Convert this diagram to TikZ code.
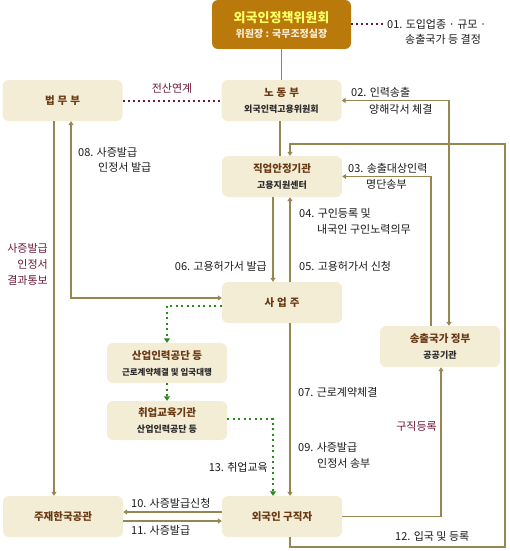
\documentclass[tikz,border=0pt]{standalone}
\usepackage{fontspec}
\setmainfont{Noto Sans CJK KR}
\usetikzlibrary{arrows.meta}
\definecolor{boxfill}{HTML}{F4EDD6}
\definecolor{topfill}{HTML}{BA7A0B}
\definecolor{yel}{HTML}{FFFF66}
\definecolor{cream}{HTML}{F8EED8}
\definecolor{linec}{HTML}{968650}
\definecolor{maroon}{HTML}{6A1A3A}
\definecolor{grn}{HTML}{2A8A1A}
\definecolor{titlec}{HTML}{6A3A14}
\definecolor{subc}{HTML}{2B2B2B}
\definecolor{textc}{HTML}{1A1A1A}
\newcommand\bxtitle[1]{{\fontsize{10.5}{16}\selectfont\bfseries\color{titlec}#1}}
\newcommand\bxsub[1]{{\fontsize{9}{16}\selectfont\bfseries\color{subc}#1}}
\begin{document}
\begin{tikzpicture}[x=1pt,y=-1pt,
  box/.style={fill=boxfill,rounded corners=6pt,minimum width=120pt,minimum height=41pt,inner sep=0pt,align=center,font=\fontsize{10}{16}\selectfont},
  topbox/.style={fill=topfill,rounded corners=6pt,minimum width=139pt,minimum height=49pt,inner sep=0pt,align=center,font=\fontsize{10}{15}\selectfont},
  conn/.style={draw=linec,line width=1.2pt},
  arr/.style={-{Triangle[width=5pt,length=4pt]}},
  arrboth/.style={{Triangle[width=5pt,length=4pt]}-{Triangle[width=5pt,length=4pt]}},
  mdot/.style={draw=maroon,line width=2pt,dash pattern=on 2pt off 3pt},
  gdot/.style={draw=grn,line width=2pt,dash pattern=on 2pt off 3.5pt},
  garr/.style={-{Triangle[width=6pt,length=4.5pt]}},
  lbl/.style={font=\fontsize{11}{13}\selectfont,text=textc,inner sep=0pt,anchor=west},
  mlbl/.style={font=\fontsize{11}{13}\selectfont,text=maroon,inner sep=0pt}
]
\useasboundingbox (0,0) rectangle (509,551);

% boxes
\node[topbox] (pol) at (281.5,24.5) {{\fontsize{13}{15}\selectfont\bfseries\color{yel}외국인정책위원회}\\{\fontsize{10}{15}\selectfont\bfseries\color{cream}위원장 : 국무조정실장}};
\node[box] (moj) at (62.5,100.5) {\bxtitle{법\hspace{3pt}무\hspace{3pt}부}};
\node[box] (mol) at (281.5,100.5) {\bxtitle{노\hspace{3pt}동\hspace{3pt}부}\\\bxsub{외국인력고용위원회}};
\node[box] (esa) at (282,176.5) {\bxtitle{직업안정기관}\\\bxsub{고용지원센터}};
\node[box] (emp) at (282,302.5) {\bxtitle{사\hspace{3pt}업\hspace{3pt}주}};
\node[box,minimum height=40pt] (hrd) at (167,363) {\bxtitle{산업인력공단 등}\\{\fontsize{8.5}{16}\selectfont\bfseries\color{subc}근로계약체결 및 입국대행}};
\node[box,minimum height=39pt] (edu) at (167,420.5) {\bxtitle{취업교육기관}\\\bxsub{산업인력공단 등}};
\node[box] (gov) at (440,346.5) {\bxtitle{송출국가 정부}\\\bxsub{공공기관}};
\node[box] (emb) at (63,516.5) {\bxtitle{주재한국공관}};
\node[box] (fw) at (282,516.5) {\bxtitle{외국인 구직자}};

% free-end coordinates
\coordinate (e01) at (385,24.5);
\coordinate (c12a) at (505,547);
\coordinate (c12b) at (505,144);

% connectors
\draw[conn] (pol.south) -- (mol.north);
\draw[mdot] (pol.east) -- (e01);
\draw[mdot] (moj.east) -- (mol.west);
\draw[conn,arrboth] (mol.east) -| ([xshift=9pt]gov.north);
\draw[conn,arr] ([xshift=-9pt]gov.north) |- (esa.east);
\draw[conn,arr] ([xshift=8pt]fw.south) |- (c12a) -- (c12b) -| ([xshift=8pt]esa.north);
\draw[conn] ([xshift=-1.5pt]mol.south) -- ([xshift=-2pt]esa.north);
\draw[conn,arr] ([xshift=8pt]emp.north) -- ([xshift=8pt]esa.south);
\draw[conn,arr] ([xshift=-9pt]esa.south) -- ([xshift=-9pt]emp.north);
\draw[conn,arrboth] ([yshift=4.5pt]emp.west) -| ([xshift=8.5pt]moj.south);
\draw[conn,arr] ([xshift=-8.5pt]moj.south) -- ([xshift=-9pt]emb.north);
\draw[gdot,garr] ([yshift=-3.5pt]emp.west) -| (hrd.north);
\draw[gdot,garr] (hrd.south) -- (edu.north);
\draw[gdot,garr] ([yshift=1.5pt]edu.east) -| ([xshift=-9pt]fw.north);
\draw[conn,arr] ([xshift=8pt]emp.south) -- ([xshift=8pt]fw.north);
\draw[conn,arr] (fw.east) -| ([xshift=1pt]gov.south);
\draw[conn,arr] ([yshift=4.5pt]fw.west) -- ([yshift=4.5pt]emb.east);
\draw[conn,arr] ([yshift=-4.5pt]emb.east) -- ([yshift=-4.5pt]fw.west);

% labels
\node[lbl] (l01a) at (387,24) {01. 도입업종 · 규모 ·};
\node[lbl] (l01b) at (405,39) {송출국가 등 결정};
\node[mlbl] (lcs) at (172,88) {전산연계};
\node[lbl] (l02a) at (351,92) {02. 인력송출};
\node[lbl] (l02b) at (369,109) {양해각서 체결};
\node[lbl] (l03a) at (348,168) {03. 송출대상인력};
\node[lbl] (l03b) at (366,184) {명단송부};
\node[lbl] (l04a) at (299,213) {04. 구인등록 및};
\node[lbl] (l04b) at (317,229) {내국인 구인노력의무};
\node[lbl] (l05) at (299,266) {05. 고용허가서 신청};
\node[lbl,anchor=east] (l06) at (267,266) {06. 고용허가서 발급};
\node[lbl] (l08a) at (78,152) {08. 사증발급};
\node[lbl] (l08b) at (98,167) {인정서 발급};
\node[mlbl,anchor=east,align=right,font=\fontsize{11}{16}\selectfont] (lres) at (48,264) {사증발급\\인정서\\결과통보};
\node[lbl] (l07) at (298,392) {07. 근로계약체결};
\node[mlbl,anchor=east] (ljob) at (437,426) {구직등록};
\node[lbl] (l09a) at (298,447) {09. 사증발급};
\node[lbl] (l09b) at (317,463) {인정서 송부};
\node[lbl,anchor=east] (l13) at (268,467) {13. 취업교육};
\node[lbl] (l10) at (131,503) {10. 사증발급신청};
\node[lbl] (l11) at (131,530) {11. 사증발급};
\node[lbl] (l12) at (395,536) {12. 입국 및 등록};
\end{tikzpicture}
\end{document}
